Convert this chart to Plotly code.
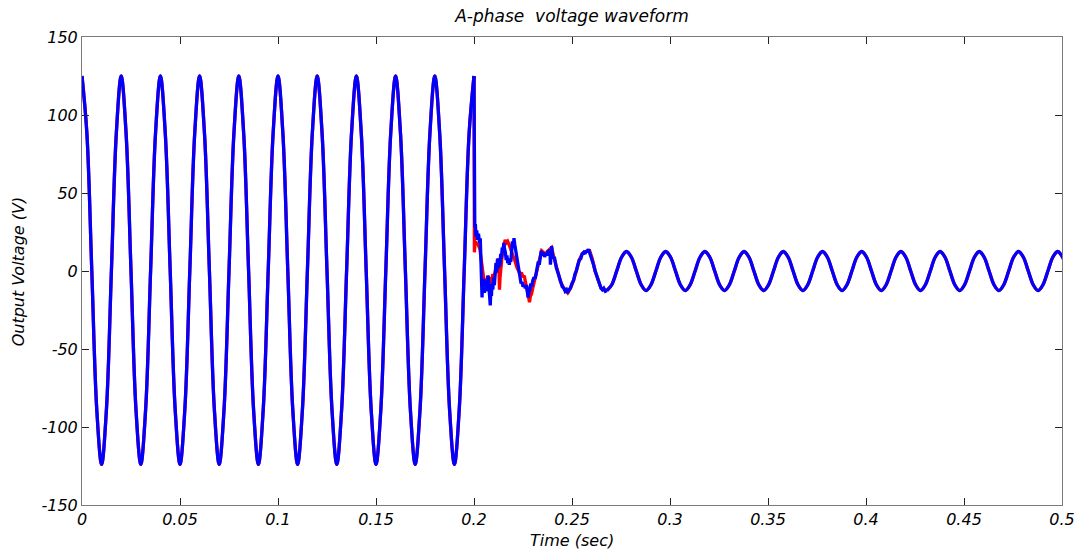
import plotly.graph_objects as go

# ---------------- data ----------------
title_text = "A-phase  voltage waveform"
x_label = "Time (sec)"
y_label = "Output Voltage (V)"

x_tick_vals = [0, 0.05, 0.1, 0.15, 0.2, 0.25, 0.3, 0.35, 0.4, 0.45, 0.5]
x_tick_text = ["0", "0.05", "0.1", "0.15", "0.2", "0.25", "0.3", "0.35", "0.4", "0.45", "0.5"]
y_tick_vals = [-150, -100, -50, 0, 50, 100, 150]
y_tick_text = ["-150", "-100", "-50", "0", "50", "100", "150"]

# steady large waveform before the fault (0 - 0.2 s), read at 1/8-cycle points
big_t = [
    0.0000, 0.0025, 0.0050, 0.0075, 0.0100, 0.0125, 0.0150, 0.0175,
    0.0200, 0.0225, 0.0250, 0.0275, 0.0300, 0.0325, 0.0350, 0.0375,
    0.0400, 0.0425, 0.0450, 0.0475, 0.0500, 0.0525, 0.0550, 0.0575,
    0.0600, 0.0625, 0.0650, 0.0675, 0.0700, 0.0725, 0.0750, 0.0775,
    0.0800, 0.0825, 0.0850, 0.0875, 0.0900, 0.0925, 0.0950, 0.0975,
    0.1000, 0.1025, 0.1050, 0.1075, 0.1100, 0.1125, 0.1150, 0.1175,
    0.1200, 0.1225, 0.1250, 0.1275, 0.1300, 0.1325, 0.1350, 0.1375,
    0.1400, 0.1425, 0.1450, 0.1475, 0.1500, 0.1525, 0.1550, 0.1575,
    0.1600, 0.1625, 0.1650, 0.1675, 0.1700, 0.1725, 0.1750, 0.1775,
    0.1800, 0.1825, 0.1850, 0.1875, 0.1900, 0.1925, 0.1950, 0.1975,
    0.2000,
]
big_v = [
    125, 88, 0, -88, -124, -88, 0, 88,
    125, 88, 0, -88, -124, -88, 0, 88,
    125, 88, 0, -88, -124, -88, 0, 88,
    125, 88, 0, -88, -124, -88, 0, 88,
    125, 88, 0, -88, -124, -88, 0, 88,
    125, 88, 0, -88, -124, -88, 0, 88,
    125, 88, 0, -88, -124, -88, 0, 88,
    125, 88, 0, -88, -124, -88, 0, 88,
    125, 88, 0, -88, -124, -88, 0, 88,
    125, 88, 0, -88, -124, -88, 0, 88,
    125,
]

# transient after the fault (blue series)
blue_tr_t = [
    0.2000, 0.2002, 0.2004, 0.2007, 0.2010, 0.2014, 0.2018, 0.2023, 0.2028, 0.2032,
    0.2036, 0.2039, 0.2041, 0.2044, 0.2047, 0.2050, 0.2053, 0.2056, 0.2060, 0.2064,
    0.2068, 0.2072, 0.2076, 0.2080, 0.2083, 0.2086, 0.2089, 0.2092, 0.2096, 0.2100,
    0.2104, 0.2108, 0.2112, 0.2116, 0.2120, 0.2124, 0.2128, 0.2132, 0.2136, 0.2140,
    0.2144, 0.2148, 0.2152, 0.2156, 0.2160, 0.2164, 0.2168, 0.2172, 0.2176, 0.2180,
    0.2184, 0.2188, 0.2192, 0.2196, 0.2200, 0.2204, 0.2208, 0.2212, 0.2216, 0.2220,
    0.2225, 0.2230, 0.2235, 0.2240, 0.2245, 0.2250, 0.2256, 0.2262, 0.2268, 0.2272,
    0.2276, 0.2280, 0.2285, 0.2290, 0.2295, 0.2300, 0.2306, 0.2312, 0.2318, 0.2323,
    0.2328, 0.2333, 0.2338, 0.2343, 0.2348, 0.2354, 0.2360, 0.2366, 0.2372, 0.2378,
    0.2383, 0.2387, 0.2390, 0.2393, 0.2396, 0.2400, 0.2405, 0.2410, 0.2415, 0.2420,
    0.2428, 0.2435, 0.2442, 0.2450, 0.2458, 0.2465, 0.2472, 0.2478, 0.2485, 0.2492,
    0.2500, 0.2508, 0.2515, 0.2522, 0.2530, 0.2537, 0.2545, 0.2552, 0.2560, 0.2567,
    0.2572, 0.2578, 0.2584, 0.2590, 0.2596, 0.2603, 0.2610, 0.2618, 0.2625, 0.2632,
    0.2640, 0.2648, 0.2655, 0.2662, 0.2670, 0.2678,
]
blue_tr_v = [
    125, 34, 28, 30, 22, 26, 20, 24, 18, 21,
    8, -3, -17, -6, -12, -5, -14, -8, -13, -6,
    -10, -3, -9, -16, -22, -12, -16, -8, -12, -4,
    -9, -2, 5, -1, 8, 2, 6, 3, 11, 8,
    15, 12, 18, 14, 12, 7, 10, 5, 8, 4,
    7, 6, 14, 19, 15, 21, 17, 14, 9, 7,
    2, -1, -5, -8, -7, -10, -9, -11, -9, -13,
    -17, -14, -12, -8, -10, -6, -4, -5, -1, 2,
    6, 4, 9, 13, 10, 12, 9, 11, 10, 13,
    11, 14, 4, 12, 16, 11, 8, 9, 4, 2,
    -1, -4, -7, -10, -11, -13, -12, -14, -12, -11,
    -8, -6, -2, 0, 4, 7, 8, 11, 12, 11,
    13, 12, 14, 12, 10, 7, 4, 0, -3, -6,
    -9, -11, -12, -11, -13, -12.5,
]

# transient after the fault (red series)
red_tr_t = [
    0.2000, 0.2002, 0.2004, 0.2007, 0.2012, 0.2018, 0.2024, 0.2030, 0.2036, 0.2042,
    0.2047, 0.2052, 0.2056, 0.2060, 0.2065, 0.2070, 0.2075, 0.2080, 0.2085, 0.2091,
    0.2096, 0.2102, 0.2108, 0.2114, 0.2120, 0.2126, 0.2128, 0.2130, 0.2133, 0.2137,
    0.2142, 0.2148, 0.2154, 0.2159, 0.2165, 0.2172, 0.2179, 0.2186, 0.2192, 0.2198,
    0.2205, 0.2213, 0.2220, 0.2228, 0.2235, 0.2242, 0.2250, 0.2256, 0.2262, 0.2268,
    0.2274, 0.2279, 0.2283, 0.2288, 0.2293, 0.2298, 0.2306, 0.2315, 0.2323, 0.2330,
    0.2338, 0.2345, 0.2354, 0.2366, 0.2378, 0.2387, 0.2396, 0.2405, 0.2415, 0.2428,
    0.2442, 0.2458, 0.2478, 0.2492, 0.2508, 0.2522, 0.2537, 0.2552, 0.2567, 0.2578,
    0.2590, 0.2603, 0.2618, 0.2632, 0.2648, 0.2662, 0.2678,
]
red_tr_v = [
    125, 12, 16, 19, 17, 18, 15, 14, 8, 2,
    -3, -8, -11, -5, -7, -3, -6, -4, -8, -6,
    -2, -4, 0, 3, 6, 8, -2, -12, -4, 5,
    8, 14, 17, 20, 18, 19, 17, 14, 12, 10,
    8, 4, 2, 0, -2, -1, -4, -3, -6, -9,
    -14, -17, -20, -16, -15, -12, -8, -4, 0, 5,
    9, 13, 12, 11, 13, 14, 15, 10, 5, -1,
    -7, -11, -14, -11, -6, 0, 7, 11, 12, 13,
    13, 8, 0, -6, -11, -12, -12.5,
]

# steady small waveform after the fault (0.2678 - 0.5 s), read at 1/8-cycle points
small_t = [
    0.2678, 0.2703, 0.2728, 0.2753, 0.2778, 0.2803, 0.2828, 0.2853,
    0.2878, 0.2903, 0.2928, 0.2953, 0.2978, 0.3003, 0.3028, 0.3053,
    0.3078, 0.3103, 0.3128, 0.3153, 0.3178, 0.3203, 0.3228, 0.3253,
    0.3278, 0.3303, 0.3328, 0.3353, 0.3378, 0.3403, 0.3428, 0.3453,
    0.3478, 0.3503, 0.3528, 0.3553, 0.3578, 0.3603, 0.3628, 0.3653,
    0.3678, 0.3703, 0.3728, 0.3753, 0.3778, 0.3803, 0.3828, 0.3853,
    0.3878, 0.3903, 0.3928, 0.3953, 0.3978, 0.4003, 0.4028, 0.4053,
    0.4078, 0.4103, 0.4128, 0.4153, 0.4178, 0.4203, 0.4228, 0.4253,
    0.4278, 0.4303, 0.4328, 0.4353, 0.4378, 0.4403, 0.4428, 0.4453,
    0.4478, 0.4503, 0.4528, 0.4553, 0.4578, 0.4603, 0.4628, 0.4653,
    0.4678, 0.4703, 0.4728, 0.4753, 0.4778, 0.4803, 0.4828, 0.4853,
    0.4878, 0.4903, 0.4928, 0.4953, 0.4978, 0.5003, 0.5028,
]
small_v = [
    -12.5, -8.8, 0, 8.8, 12.5, 8.8, 0, -8.8,
    -12.5, -8.8, 0, 8.8, 12.5, 8.8, 0, -8.8,
    -12.5, -8.8, 0, 8.8, 12.5, 8.8, 0, -8.8,
    -12.5, -8.8, 0, 8.8, 12.5, 8.8, 0, -8.8,
    -12.5, -8.8, 0, 8.8, 12.5, 8.8, 0, -8.8,
    -12.5, -8.8, 0, 8.8, 12.5, 8.8, 0, -8.8,
    -12.5, -8.8, 0, 8.8, 12.5, 8.8, 0, -8.8,
    -12.5, -8.8, 0, 8.8, 12.5, 8.8, 0, -8.8,
    -12.5, -8.8, 0, 8.8, 12.5, 8.8, 0, -8.8,
    -12.5, -8.8, 0, 8.8, 12.5, 8.8, 0, -8.8,
    -12.5, -8.8, 0, 8.8, 12.5, 8.8, 0, -8.8,
    -12.5, -8.8, 0, 8.8, 12.5, 8.8, 0,
]

RED = "#ff0000"
BLUE = "#0000ff"
LW = 3.3

FONT = "DejaVu Sans"

fig = go.Figure()

for color in (RED, BLUE):
    tr_t = red_tr_t if color == RED else blue_tr_t
    tr_v = red_tr_v if color == RED else blue_tr_v
    fig.add_trace(go.Scatter(x=big_t, y=big_v, mode="lines",
                             line=dict(color=color, width=LW, shape="spline"),
                             showlegend=False, hoverinfo="skip"))
    fig.add_trace(go.Scatter(x=tr_t, y=tr_v, mode="lines",
                             line=dict(color=color, width=LW),
                             showlegend=False, hoverinfo="skip"))
    fig.add_trace(go.Scatter(x=small_t, y=small_v, mode="lines",
                             line=dict(color=color, width=LW, shape="spline"),
                             showlegend=False, hoverinfo="skip"))

axis_common = dict(
    showgrid=False, zeroline=False,
    showline=True, linecolor="#7a7a7a", linewidth=1, mirror="ticks",
    ticks="inside", ticklen=7, tickwidth=1, tickcolor="#222222",
    tickfont=dict(family=FONT, size=16, color="#000000", style="italic"),
)

fig.update_xaxes(range=[0, 0.5], tickmode="array", tickvals=x_tick_vals,
                 ticktext=x_tick_text, **axis_common)
fig.update_yaxes(range=[-150, 150], tickmode="array", tickvals=y_tick_vals,
                 ticktext=y_tick_text, **axis_common)

fig.update_layout(
    width=1087, height=550,
    margin=dict(l=82, r=20, t=37, b=45, pad=0),
    paper_bgcolor="#ffffff", plot_bgcolor="#ffffff",
    title=dict(text=title_text, x=0.5, xref="paper", xanchor="center",
               y=1 - 16 / 550, yref="container", yanchor="middle",
               font=dict(family=FONT, size=17, color="#000000", style="italic")),
    annotations=[
        dict(text=x_label, xref="paper", yref="paper", x=0.5, y=-35 / 468,
             xanchor="center", yanchor="middle", showarrow=False,
             font=dict(family=FONT, size=16, color="#000000", style="italic")),
        dict(text=y_label, xref="paper", yref="paper", x=-64 / 985, y=0.5,
             xanchor="center", yanchor="middle", textangle=-90, showarrow=False,
             font=dict(family=FONT, size=16, color="#000000", style="italic")),
    ],
)

fig.write_html("out.html", config={"displayModeBar": False},
               post_script="document.body.style.margin='0';")
